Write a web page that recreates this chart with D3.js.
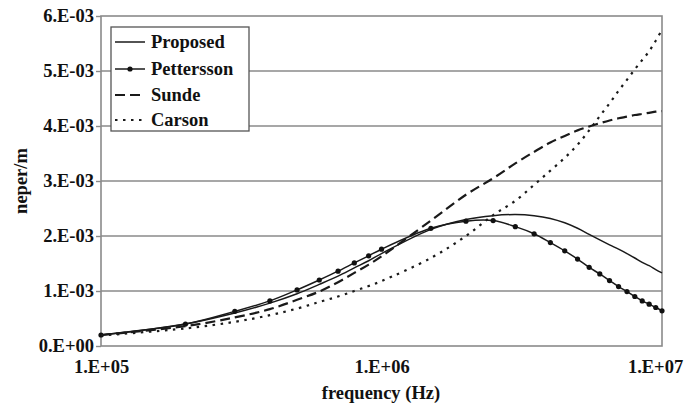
<!DOCTYPE html>
<html>
<head>
<meta charset="utf-8">
<script src="https://cdn.jsdelivr.net/npm/d3@7"></script>
<style>
  body { margin: 0; background: #fff; }
  svg text { font-family: "Liberation Serif", "Times New Roman", serif; font-weight: bold; fill: #111; }
</style>
</head>
<body>
<svg id="chart" width="700" height="410"></svg>
<script>
// Frequency samples (Hz)
const freqHz = [1e5, 2e5, 3e5, 4e5, 5e5, 6e5, 7e5, 8e5, 9e5,
  1e6, 1.5e6, 2e6, 2.5e6, 3e6, 3.5e6, 4e6, 4.5e6, 5e6, 5.5e6, 6e6,
  6.5e6, 7e6, 7.5e6, 8e6, 8.5e6, 9e6, 9.5e6, 1e7];

// Attenuation, in units of 1e-3 neper/m
const proposed = [0.20, 0.40, 0.60, 0.78, 0.95, 1.12, 1.27, 1.42, 1.55,
  1.68, 2.12, 2.30, 2.37, 2.39, 2.37, 2.32, 2.24, 2.14, 2.03, 1.93,
  1.84, 1.76, 1.68, 1.60, 1.52, 1.46, 1.39, 1.33];
const pettersson = [0.20, 0.40, 0.63, 0.82, 1.02, 1.20, 1.36, 1.51, 1.64,
  1.76, 2.14, 2.27, 2.28, 2.17, 2.04, 1.88, 1.73, 1.58, 1.43, 1.31,
  1.19, 1.08, 0.99, 0.90, 0.82, 0.76, 0.70, 0.64];
const sunde = [0.20, 0.36, 0.52, 0.67, 0.84, 0.99, 1.16, 1.33, 1.48,
  1.63, 2.28, 2.75, 3.05, 3.32, 3.53, 3.70, 3.82, 3.92, 3.99, 4.05,
  4.10, 4.14, 4.17, 4.20, 4.22, 4.24, 4.26, 4.27];
const carson = [0.19, 0.32, 0.44, 0.56, 0.68, 0.80, 0.90, 1.00, 1.09,
  1.18, 1.60, 2.00, 2.38, 2.64, 2.93, 3.19, 3.42, 3.66, 3.92, 4.18,
  4.41, 4.64, 4.84, 5.03, 5.20, 5.36, 5.55, 5.75];

const yTickValues = [0, 1, 2, 3, 4, 5, 6];
const yTickLabels = ["0.E+00", "1.E-03", "2.E-03", "3.E-03", "4.E-03", "5.E-03", "6.E-03"];
const xTickValues = [1e5, 1e6, 1e7];
const xTickLabels = ["1.E+05", "1.E+06", "1.E+07"];

const seriesNames = ["Proposed", "Pettersson", "Sunde", "Carson"];

const W = 700, H = 410;
const margin = { top: 16, right: 38, bottom: 64, left: 101 };
const plotW = W - margin.left - margin.right;
const plotH = H - margin.top - margin.bottom;

const svg = d3.select("#chart");
const g = svg.append("g").attr("transform", `translate(${margin.left},${margin.top})`);

const x = d3.scaleLog().domain([1e5, 1e7]).range([0, plotW]);
const y = d3.scaleLinear().domain([0, 6]).range([plotH, 0]);

// horizontal gridlines
g.append("g").selectAll("line")
  .data(yTickValues.slice(1, -1))
  .join("line")
  .attr("x1", 0).attr("x2", plotW)
  .attr("y1", d => y(d)).attr("y2", d => y(d))
  .attr("stroke", "#8a8a8a").attr("stroke-width", 1.6);

// plot frame
g.append("rect")
  .attr("x", 0).attr("y", 0).attr("width", plotW).attr("height", plotH)
  .attr("fill", "none").attr("stroke", "#8a8a8a").attr("stroke-width", 1.6);

// y axis
const yAxis = g.append("g")
  .call(d3.axisLeft(y).tickValues(yTickValues)
    .tickFormat((d, i) => yTickLabels[i]).tickSize(5).tickPadding(2));
yAxis.select(".domain").remove();
yAxis.selectAll(".tick line").attr("stroke", "#8a8a8a").attr("stroke-width", 1.4);
yAxis.selectAll("text").attr("font-size", 18.5).attr("fill", "#111");

// x axis
const xAxis = g.append("g").attr("transform", `translate(0,${plotH})`)
  .call(d3.axisBottom(x).tickValues(xTickValues)
    .tickFormat((d, i) => xTickLabels[i]).tickSize(0).tickPadding(14));
xAxis.select(".domain").remove();
xAxis.selectAll("text").attr("font-size", 18.5).attr("fill", "#111");
// keep the last label inside the chart like the spreadsheet layout
xAxis.selectAll(".tick").filter((d, i) => i === xTickValues.length - 1)
  .select("text").attr("dx", -7);

// axis titles
svg.append("text")
  .attr("transform", `translate(${margin.left + plotW / 2 - 0.5},${H - 17})`)
  .attr("text-anchor", "middle").attr("dy", "0.35em")
  .attr("font-size", 18.5).text("frequency (Hz)");
svg.append("text")
  .attr("transform", `translate(21,${margin.top + plotH / 2}) rotate(-90)`)
  .attr("text-anchor", "middle").attr("dy", "0.35em")
  .attr("font-size", 18.5).text("neper/m");

// series
const line = d3.line()
  .x(d => x(d[0])).y(d => y(d[1]))
  .curve(d3.curveCatmullRom.alpha(0.5));

const styles = {
  Proposed:   { values: proposed,   dash: null,      width: 1.5 },
  Pettersson: { values: pettersson, dash: null,      width: 1.5 },
  Sunde:      { values: sunde,      dash: "10,5",    width: 2.2 },
  Carson:     { values: carson,     dash: "2.5,5.5", width: 2.2 }
};

const plot = g.append("g");
seriesNames.forEach(name => {
  const s = styles[name];
  const pts = freqHz.map((f, i) => [f, s.values[i]]);
  plot.append("path")
    .datum(pts)
    .attr("d", line)
    .attr("fill", "none")
    .attr("stroke", "#1a1a1a")
    .attr("stroke-width", s.width)
    .attr("stroke-dasharray", s.dash);
  if (name === "Pettersson") {
    plot.append("g").selectAll("circle")
      .data(pts)
      .join("circle")
      .attr("cx", d => x(d[0])).attr("cy", d => y(d[1]))
      .attr("r", 2.6).attr("fill", "#111");
  }
});

// legend
const legend = svg.append("g").attr("transform", "translate(111,27)");
legend.append("rect")
  .attr("width", 138).attr("height", 104)
  .attr("fill", "#fff").attr("stroke", "#555").attr("stroke-width", 1.3);
const rowY = [15, 42, 68, 93];
seriesNames.forEach((name, i) => {
  const s = styles[name];
  const row = legend.append("g").attr("transform", `translate(0,${rowY[i]})`);
  row.append("line")
    .attr("x1", 4).attr("x2", 34).attr("y1", 0).attr("y2", 0)
    .attr("stroke", "#1a1a1a").attr("stroke-width", s.width)
    .attr("stroke-dasharray", s.dash);
  if (name === "Pettersson") {
    row.append("circle").attr("cx", 19).attr("cy", 0).attr("r", 2.6).attr("fill", "#111");
  }
  row.append("text")
    .attr("x", 40).attr("y", 0).attr("dy", "0.35em")
    .attr("font-size", 18.5).text(name);
});
</script>
</body>
</html>
